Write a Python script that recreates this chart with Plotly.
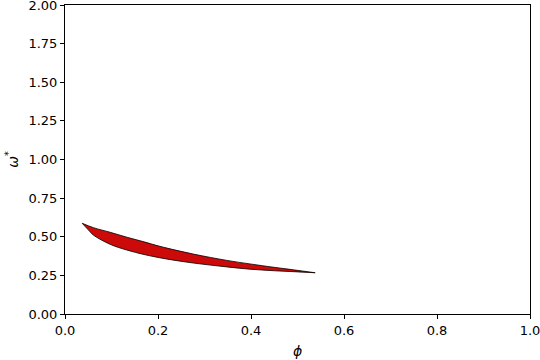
import plotly.graph_objects as go

upper_phi = [0.037, 0.061, 0.097, 0.133, 0.17, 0.204, 0.276, 0.348, 0.398, 0.45, 0.491, 0.538]
upper_omega = [0.587, 0.559, 0.529, 0.497, 0.467, 0.438, 0.388, 0.347, 0.324, 0.302, 0.286, 0.267]
lower_phi = [0.037, 0.05, 0.061, 0.097, 0.133, 0.17, 0.215, 0.276, 0.348, 0.398, 0.45, 0.491, 0.538]
lower_omega = [0.587, 0.545, 0.511, 0.451, 0.414, 0.385, 0.358, 0.330, 0.305, 0.290, 0.280, 0.274, 0.267]

fig = go.Figure()
fig.add_trace(go.Scatter(x=lower_phi, y=lower_omega, mode="lines",
                         line=dict(color="black", width=0.8, shape="spline", smoothing=1.0),
                         showlegend=False, hoverinfo="skip"))
fig.add_trace(go.Scatter(x=upper_phi, y=upper_omega, mode="lines", fill="tonexty",
                         fillcolor="#cc0a0a",
                         line=dict(color="black", width=0.8, shape="spline", smoothing=1.0),
                         showlegend=False, hoverinfo="skip"))

axis_common = dict(showgrid=False, zeroline=False, showline=True, linecolor="black",
                   linewidth=1, mirror=True, ticks="outside", ticklen=4,
                   tickcolor="black", tickwidth=1, automargin=False,
                   ticklabeloverflow="allow",
                   tickfont=dict(family="DejaVu Sans", size=13, color="black"))

fig.update_layout(
    width=540, height=360,
    margin=dict(l=65, r=10, t=5, b=46),
    plot_bgcolor="white", paper_bgcolor="white",
    xaxis=dict(range=[0, 1], tickvals=[0, 0.2, 0.4, 0.6, 0.8, 1.0],
               ticktext=["0.0", "0.2", "0.4", "0.6", "0.8", "1.0"],
               title=dict(text="<i>ϕ</i>", font=dict(family="DejaVu Sans", size=14, color="black"), standoff=9),
               **axis_common),
    yaxis=dict(range=[0, 2], tickvals=[0, 0.25, 0.5, 0.75, 1.0, 1.25, 1.5, 1.75, 2.0],
               ticktext=["0.00", "0.25", "0.50", "0.75", "1.00", "1.25", "1.50", "1.75", "2.00"],
               title=dict(text="<i>ω</i><sup>*</sup>", font=dict(family="DejaVu Sans", size=14, color="black"), standoff=6),
               **axis_common),
)

fig.write_html("out.html", config={"displayModeBar": False},
               post_script="document.body.style.margin='0';")
